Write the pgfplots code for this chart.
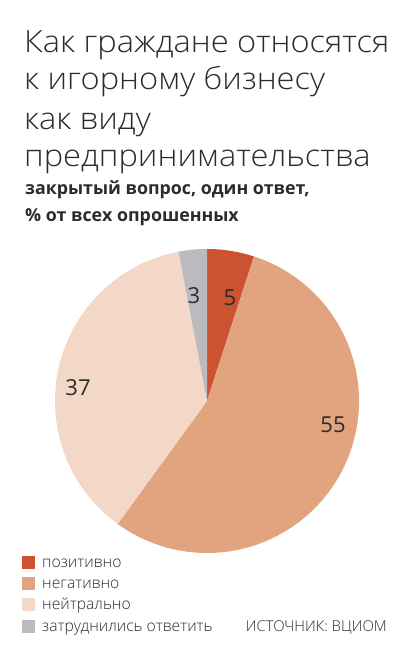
\documentclass[border=0pt]{standalone}
\usepackage{pgfplots}
\usepackage{pgfplotstable}
\pgfplotsset{compat=1.18}
\usepackage{fontspec}
\setmainfont{Open Sans}
\newfontfamily\lightfont{Open Sans Light}
\newfontfamily\titlefont{Open Sans Light}[FakeStretch=1.07]
\definecolor{cpos}{HTML}{CC5230}
\definecolor{cneg}{HTML}{E1A47E}
\definecolor{cneu}{HTML}{F4D8C7}
\definecolor{cdk}{HTML}{BBBBBF}
\definecolor{txt}{HTML}{2B2B2B}
\pgfplotstableread{
label value
pos 5
neg 55
neu 37
dk 3
}\piedata
\pgfplotstablegetelem{0}{value}\of\piedata \let\vA\pgfplotsretval
\pgfplotstablegetelem{1}{value}\of\piedata \let\vB\pgfplotsretval
\pgfplotstablegetelem{2}{value}\of\piedata \let\vC\pgfplotsretval
\pgfplotstablegetelem{3}{value}\of\piedata \let\vD\pgfplotsretval
\pgfmathsetmacro\aA{90}
\pgfmathsetmacro\aB{\aA-3.6*\vA}
\pgfmathsetmacro\aC{\aB-3.6*\vB}
\pgfmathsetmacro\aD{\aC-3.6*\vC}
\pgfmathsetmacro\aE{\aD-3.6*\vD}
\begin{document}
\begin{tikzpicture}
\useasboundingbox (0,0) rectangle (411pt,664pt);
\begin{axis}[
  at={(0,0)}, anchor=origin,
  scale only axis, x=1pt, y=1pt,
  xmin=0, xmax=411, ymin=0, ymax=664,
  hide axis, clip=false,
]
\fill[cpos] (axis cs:207,263) -- ++(\aA:152pt) arc[start angle=\aA, end angle=\aB, radius=152pt] -- cycle;
\fill[cneg] (axis cs:207,263) -- ++(\aB:152pt) arc[start angle=\aB, end angle=\aC, radius=152pt] -- cycle;
\fill[cneu] (axis cs:207,263) -- ++(\aC:152pt) arc[start angle=\aC, end angle=\aD, radius=152pt] -- cycle;
\fill[cdk] (axis cs:207,263) -- ++(\aD:152pt) arc[start angle=\aD, end angle=\aE, radius=152pt] -- cycle;
\node[txt, font=\fontsize{22}{22}\selectfont] at (axis cs:230,366) {\vA};
\node[txt, font=\fontsize{22}{22}\selectfont] at (axis cs:194,368) {\vD};
\node[txt, font=\fontsize{22}{22}\selectfont] at (axis cs:78,276) {\vC};
\node[txt, font=\fontsize{22}{22}\selectfont] at (axis cs:333,239) {\vB};
% title
\node[txt, anchor=base west, inner sep=0, font=\titlefont\fontsize{30.5}{30.5}\selectfont] at (axis cs:24,611) {Как граждане относятся};
\node[txt, anchor=base west, inner sep=0, font=\titlefont\fontsize{30.5}{30.5}\selectfont] at (axis cs:24,574) {к игорному бизнесу};
\node[txt, anchor=base west, inner sep=0, font=\titlefont\fontsize{30.5}{30.5}\selectfont] at (axis cs:24,534) {как виду};
\node[txt, anchor=base west, inner sep=0, font=\titlefont\fontsize{30.5}{30.5}\selectfont] at (axis cs:24,497) {предпринимательства};
\node[txt, anchor=base west, inner sep=0, font=\bfseries\fontsize{17.8}{17.8}\selectfont] at (axis cs:25,469) {закрытый вопрос, один ответ,};
\node[txt, anchor=base west, inner sep=0, font=\bfseries\fontsize{17.8}{17.8}\selectfont] at (axis cs:25,442) {\% от всех опрошенных};
% legend
\fill[cpos] (axis cs:22,95) rectangle (axis cs:35,108);
\fill[cneg] (axis cs:22,74) rectangle (axis cs:35,87);
\fill[cneu] (axis cs:22,53) rectangle (axis cs:35,66);
\fill[cdk] (axis cs:22,31) rectangle (axis cs:35,44);
\node[txt, anchor=base west, inner sep=0, font=\lightfont\fontsize{15.7}{15.7}\selectfont] at (axis cs:42,96) {позитивно};
\node[txt, anchor=base west, inner sep=0, font=\lightfont\fontsize{15.7}{15.7}\selectfont] at (axis cs:42,75) {негативно};
\node[txt, anchor=base west, inner sep=0, font=\lightfont\fontsize{15.7}{15.7}\selectfont] at (axis cs:42,54) {нейтрально};
\node[txt, anchor=base west, inner sep=0, font=\lightfont\fontsize{15.7}{15.7}\selectfont] at (axis cs:42,32) {затруднились ответить};
\node[txt, anchor=base east, inner sep=0, font=\lightfont\fontsize{14.9}{14.9}\selectfont] at (axis cs:387,32) {ИСТОЧНИК: ВЦИОМ};
\end{axis}
\end{tikzpicture}
\end{document}
